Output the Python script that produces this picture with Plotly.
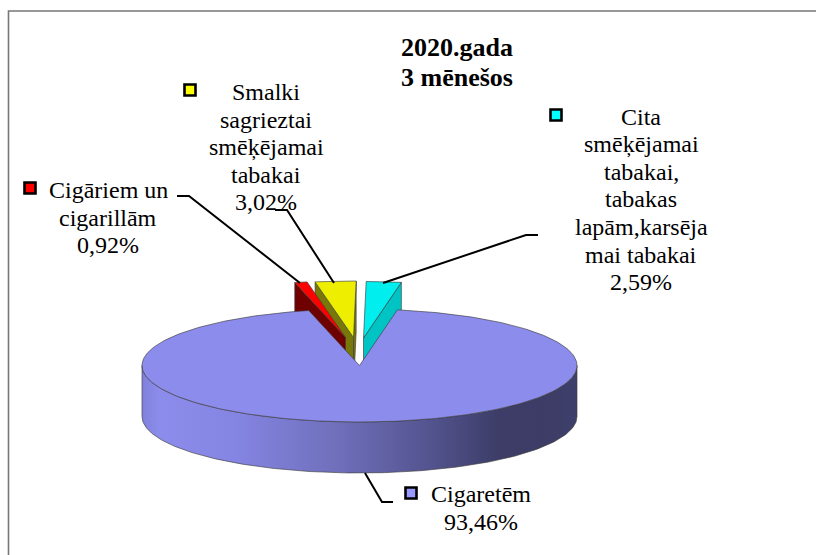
import numpy as np
import plotly.graph_objects as go

# ---- data ----
categories = ["Cita smēķējamai tabakai, tabakas lapām,karsējamai tabakai", "Cigaretēm",
              "Cigāriem un cigarillām", "Smalki sagrieztai smēķējamai tabakai"]
shares = [2.59, 93.46, 0.92, 3.02]
title_lines = ["2020.gada", "3 mēnešos"]
label_lines = [
    ["Cita", "smēķējamai", "tabakai,", "tabakas", "lapām,karsēja", "mai tabakai", "2,59%"],
    ["Cigaretēm", "93,46%"],
    ["Cigāriem un", "cigarillām", "0,92%"],
    ["Smalki", "sagrieztai", "smēķējamai", "tabakai", "3,02%"],
]

# ---- styling / geometry ----
W, H = 816, 555
CX, CY, RX, RY, DEPTH = 359.5, 365.5, 217.5, 56.5, 51
START_DEG = 0.7
TOPS = ["#00eeee", "#8c8cec", "#ff0000", "#eeee00"]
FACES = ["#00c4c4", "#8c8cec", "#6e0000", "#77770a"]
KEYS = ["#00ffff", "#9999ff", "#ff0000", "#ffff00"]
EXPLODE = [(4, -27.5), (0, 0), (-14, -28), (-6, -28)]
LABEL_X = [641, 480.5, 108, 266]
LABEL_Y0 = [116.5, 494, 190, 92]
LINE_H = 27.6
KEY_POS = [(556, 115), (411, 493), (30, 188), (190, 90)]
LEADERS = [
    [(538, 235), (526, 235), (383, 283)],
    [(365, 473), (382, 502), (393, 502)],
    [(177, 196), (189, 196), (300, 283)],
    [(275, 210), (287, 210), (334, 283)],
]
EDGE = "rgba(60,60,60,0.8)"
FONT = "Liberation Serif"

total = sum(shares)
cum = np.cumsum([0] + shares) / total * 360 + START_DEG
spans = [(cum[i], cum[i + 1]) for i in range(len(shares))]


def px(deg, r=1.0, ox=0, oy=0):
    t = np.radians(deg)
    return CX + ox + RX * r * np.sin(t), CY + oy - RY * r * np.cos(t)


def poly(fig, xs, ys, fill, line=EDGE, lw=0.8, **kw):
    fig.add_trace(go.Scatter(x=list(xs), y=list(ys), mode="lines", fill="toself",
                             fillcolor=fill, line=dict(color=line, width=lw),
                             hoverinfo="skip", showlegend=False, **kw))


def wedge(fig, i):
    a0, a1 = spans[i]
    ox, oy = EXPLODE[i]
    ang = np.linspace(a0, a1, 12)
    ax, ay = px(0, 0, ox, oy)
    # cut faces which look towards the viewer (drawn before the top surface)
    for a in (a0, a1):
        rx_, ry_ = px(a, 1, ox, oy)
        faces_viewer = (a == a1 and a > 0) or (a == a0 and a < 0)
        if faces_viewer:
            poly(fig, [ax, rx_, rx_, ax, ax], [ay, ry_, ry_ + DEPTH, ay + DEPTH, ay], FACES[i])
    xs, ys = px(ang, 1, ox, oy)
    poly(fig, [ax, *xs, ax], [ay, *ys, ay], TOPS[i])


fig = go.Figure()

# frame (top and left edges only are in view)
fig.add_trace(go.Scatter(x=[8.5, 8.5, W], y=[H, 11, 11], mode="lines",
                         line=dict(color="#777777", width=1.6), hoverinfo="skip", showlegend=False))

# exploded small slices, back to front
for i in (3, 2, 0):
    a0, a1 = spans[i]
    if a0 > 180:
        spans[i] = (a0 - 360, a1 - 360)
    wedge(fig, i)

# main slice: rim with a horizontal gradient, then the top surface
rim_ang = np.linspace(90, 270, 181)
rx_, ry_ = px(rim_ang)
fig.add_trace(go.Scatter(
    x=[*rx_, *rx_[::-1], rx_[0]], y=[*ry_, *(ry_[::-1] + DEPTH), ry_[0]],
    mode="lines", fill="toself", hoverinfo="skip", showlegend=False,
    line=dict(color=EDGE, width=0.8),
    fillgradient=dict(type="horizontal", colorscale=[
        [0, "#8080dc"], [0.04, "#8c8cec"], [0.22, "#8484e2"], [0.45, "#6f6fbb"],
        [0.65, "#555592"], [0.82, "#3d3d68"], [0.92, "#3c3c66"], [1, "#3f3f6c"]]),
))
a0, a1 = spans[1]
ang = np.linspace(a0, a1, 361)
tx, ty = px(ang)
ax, ay = px(0, 0)
poly(fig, [ax, *tx, ax], [ay, *ty, ay], TOPS[1])

# leader lines
for pts in LEADERS:
    fig.add_trace(go.Scatter(x=[p[0] for p in pts], y=[p[1] for p in pts], mode="lines",
                             line=dict(color="black", width=2), hoverinfo="skip", showlegend=False))

# legend keys
for (kx, ky), c in zip(KEY_POS, KEYS):
    fig.add_trace(go.Scatter(x=[kx], y=[ky], mode="markers", hoverinfo="skip", showlegend=False,
                             marker=dict(symbol="square", size=11, color=c,
                                         line=dict(color="black", width=2.6))))

ann = []
for lines, lx, ly in zip(label_lines, LABEL_X, LABEL_Y0):
    for k, t in enumerate(lines):
        ann.append(dict(x=lx, y=ly + k * LINE_H, text=t, showarrow=False, xanchor="center",
                        yanchor="middle", font=dict(family=FONT, size=24, color="black")))
for k, t in enumerate(title_lines):
    ann.append(dict(x=456.5, y=47 + k * 30.5, text=f"<b>{t}</b>", showarrow=False, xanchor="center",
                    yanchor="middle", font=dict(family=FONT, size=26, color="black")))

fig.update_layout(
    width=W, height=H, margin=dict(l=0, r=0, t=0, b=0), autosize=False,
    paper_bgcolor="white", plot_bgcolor="white", annotations=ann, showlegend=False,
    xaxis=dict(range=[0, W], visible=False, fixedrange=True),
    yaxis=dict(range=[H, 0], visible=False, fixedrange=True),
)
fig.write_html("out.html", config={"displayModeBar": False},
               post_script="document.body.style.margin='0';document.body.style.overflow='hidden';")
